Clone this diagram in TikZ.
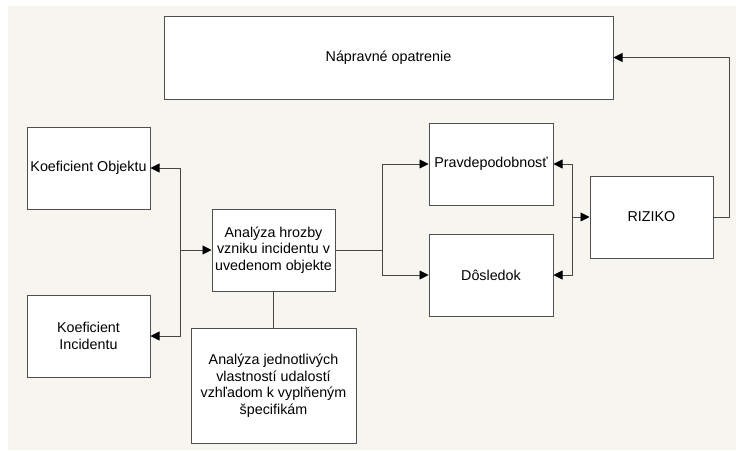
\documentclass[tikz,border=0pt]{standalone}
\usepackage{fontspec}
\setmainfont{Liberation Sans}
\usetikzlibrary{arrows.meta}
\definecolor{bgbeige}{RGB}{247,245,240}
\definecolor{boxline}{RGB}{80,80,80}
\definecolor{conline}{RGB}{70,70,70}
\begin{document}
\begin{tikzpicture}[x=1pt,y=-1pt,
  box/.style={draw=boxline,line width=1pt,fill=white,inner sep=0pt,align=center,
    font=\fontsize{14.3}{16.5}\selectfont},
  con/.style={draw=conline,line width=0.9pt},
  arr/.style={con,-{Triangle[length=9pt,width=9pt,color=black,fill=black]}}]
\useasboundingbox (0,0) rectangle (736,450);
\fill[white] (0,0) rectangle (736,450);
\fill[bgbeige] (8,6) rectangle (736,450);

\node[box,minimum width=449pt,minimum height=83pt] (nap) at (388.5,57.5) {Nápravné opatrenie};
\node[box,minimum width=123pt,minimum height=82pt] (ko) at (88.5,168) {Koeficient Objektu};
\node[box,minimum width=123pt,minimum height=82pt] (ki) at (88.5,336) {Koeficient\\Incidentu};
\node[box,minimum width=123pt,minimum height=82pt] (a) at (273.5,250) {Analýza hrozby\\vzniku incidentu v\\uvedenom objekte};
\node[box,minimum width=165pt,minimum height=115pt] (aj) at (273.5,385.5) {Analýza jednotlivých\\vlastností udalostí\\vzhľadom k vyplňeným\\špecifikám};
\node[box,minimum width=124pt,minimum height=82pt] (pr) at (491,164) {Pravdepodobnosť};
\node[box,minimum width=124pt,minimum height=82pt] (do) at (491,275) {Dôsledok};
\node[box,minimum width=123pt,minimum height=82pt] (riz) at (651.5,217) {RIZIKO};

\coordinate (jl) at (180,250);
\coordinate (jm) at (382,250);
\coordinate (jr) at (572,217);
\coordinate (jt) at (729,217);

\draw[arr] (jl) -- (a.west);
\draw[arr] (jl) |- (ko.east);
\draw[arr] (jl) |- (ki.east);
\draw[con] (a.south) -- (aj.north);
\draw[con] (a.east) -- (jm);
\draw[arr] (jm) |- (pr.west);
\draw[arr] (jm) |- (do.west);
\draw[arr] (jr) -- (riz.west);
\draw[arr] (jr) |- (pr.east);
\draw[arr] (jr) |- (do.east);
\draw[arr] (riz.east) -- (jt) |- (nap.east);
\end{tikzpicture}
\end{document}
